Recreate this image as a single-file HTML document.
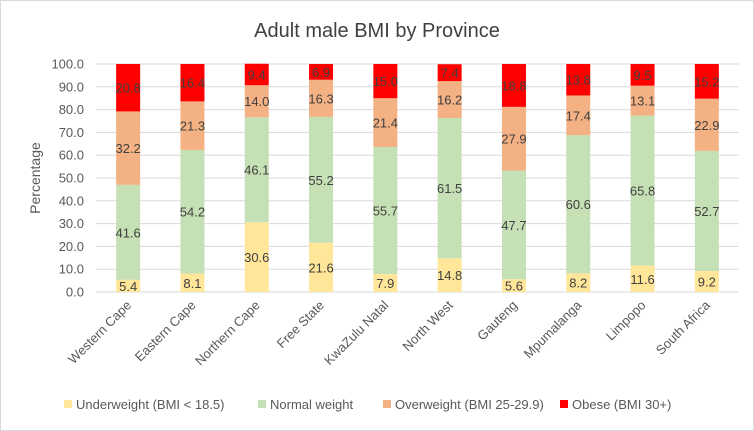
<!DOCTYPE html>
<html><head><meta charset="utf-8"><style>
body{margin:0;background:#fff;font-family:"Liberation Sans",sans-serif}
.frame{position:absolute;left:0;top:0;width:752px;height:429px;border:1px solid #d9d9d9}
</style></head><body>
<div class="frame"></div>
<svg id="c" width="754" height="431" style="position:absolute;left:0;top:0"></svg>
<script>
const categories=["Western Cape","Eastern Cape","Northern Cape","Free State","KwaZulu Natal","North West","Gauteng","Mpumalanga","Limpopo","South Africa"];
const underweight=[5.4,8.1,30.6,21.6,7.9,14.8,5.6,8.2,11.6,9.2];
const normal=[41.6,54.2,46.1,55.2,55.7,61.5,47.7,60.6,65.8,52.7];
const overweight=[32.2,21.3,14.0,16.3,21.4,16.2,27.9,17.4,13.1,22.9];
const obese=[20.8,16.4,9.4,6.9,15.0,7.4,18.8,13.8,9.5,15.2];
const yTicks=[0,10,20,30,40,50,60,70,80,90,100];
const seriesNames=["Underweight (BMI < 18.5)","Normal weight","Overweight (BMI 25-29.9)","Obese (BMI 30+)"];
const colors=["#ffe699","#c5e0b4","#f4b183","#ff0000"];
const NS="http://www.w3.org/2000/svg",svg=document.getElementById('c');
function mk(t,a,txt){const e=document.createElementNS(NS,t);for(const k in a)e.setAttribute(k,a[k]);if(txt!==undefined)e.textContent=txt;svg.appendChild(e);return e;}
const L=96,R=739,T=64,B=292;
const y=v=>B-(v/100)*(B-T);
const step=(R-L)/categories.length;
const xc=i=>L+step*(i+0.5);
const bw=24;
let e=mk('text',{x:377,y:37,'text-anchor':'middle','font-size':20,fill:'#404040'},'Adult male BMI by Province');

yTicks.forEach(t=>{
 let g=mk('line',{x1:L,x2:R,y1:y(t),y2:y(t),stroke:'#d9d9d9','stroke-width':1});
 
 let l=mk('text',{x:L-12,y:y(t)+4.5,'text-anchor':'end','font-size':13,fill:'#595959'},t.toFixed(1));
 
});
e=mk('text',{x:40,y:(T+B)/2,'text-anchor':'middle','font-size':14,fill:'#595959',transform:`rotate(-90 40 ${(T+B)/2})`},'Percentage');

const series=[underweight,normal,overweight,obese];
categories.forEach((c,i)=>{
 let base=0;
 series.forEach((s,k)=>{
  const v=s[i];
  let r=mk('rect',{x:xc(i)-bw/2,y:y(base+v),width:bw,height:y(base)-y(base+v),fill:colors[k]});
  
  let t=mk('text',{x:xc(i),y:(y(base)+y(base+v))/2+5,'text-anchor':'middle','font-size':13,fill:'#404040'},v.toFixed(1));
  
  base+=v;
 });
 let xl=mk('text',{x:xc(i)+4,y:B+14,'text-anchor':'end','font-size':13,fill:'#595959',transform:`rotate(-45 ${xc(i)+4} ${B+14})`},c);
 
});
const lx=[64,258,383,560];
seriesNames.forEach((n,k)=>{
 let r=mk('rect',{x:lx[k],y:400,width:8,height:8,fill:colors[k]});
 
 let t=mk('text',{x:lx[k]+12,y:409,'font-size':13,fill:'#595959'},n);
 
});
</script>
</body></html>
